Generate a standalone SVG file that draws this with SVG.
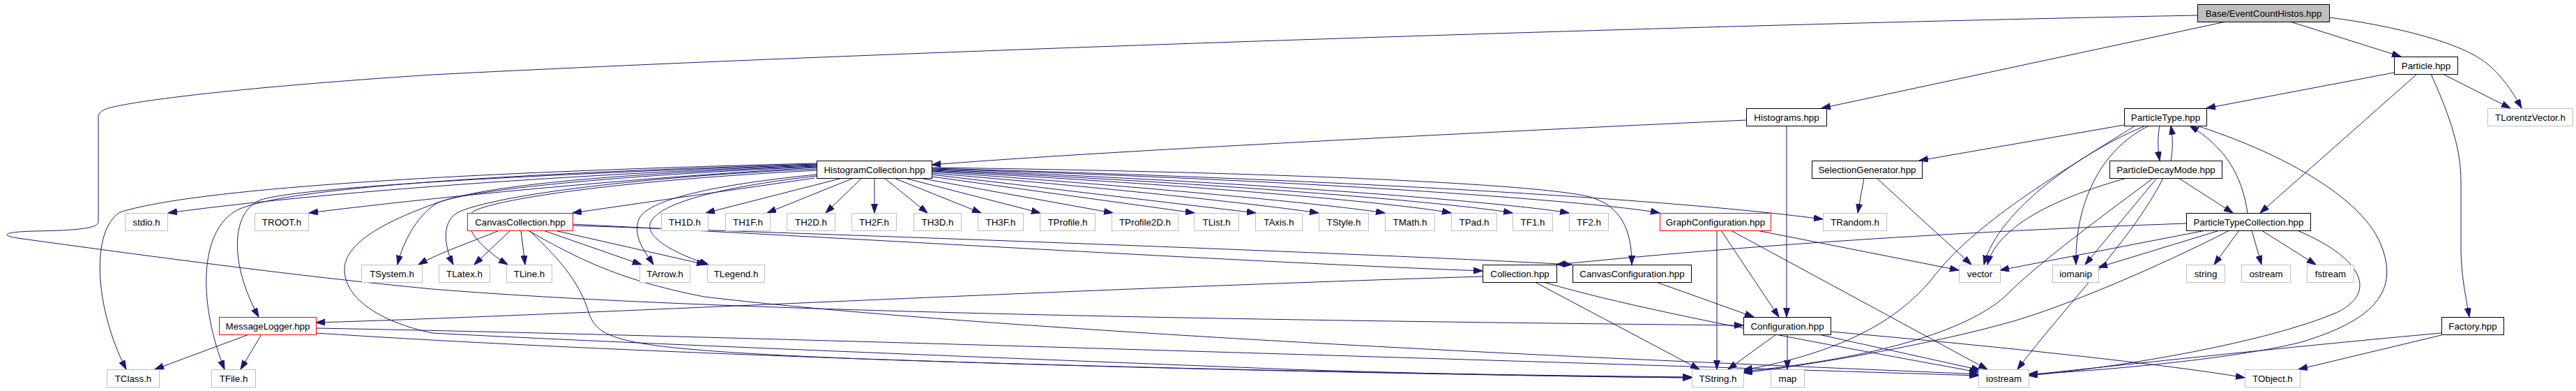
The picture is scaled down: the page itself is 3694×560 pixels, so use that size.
<svg xmlns="http://www.w3.org/2000/svg" width="3694" height="560" viewBox="0 0 3694 560">
<defs>
<marker id="a" markerUnits="userSpaceOnUse" markerWidth="14" markerHeight="10" refX="13" refY="4.5" orient="auto"><path d="M0,0 L13,4.5 L0,9 z" fill="#191970" stroke="#191970" stroke-width="1"/></marker>
</defs>
<style>
.n rect{fill:#fff;stroke:#000;stroke-width:1}
.s rect{stroke:#bfbfbf}
.r rect{stroke:#ff0000}
.root rect{fill:#bfbfbf}
text{font-family:"Liberation Sans",Arial,Helvetica,sans-serif;font-size:13.33px;text-anchor:middle;fill:#000}
#edges path{fill:none;stroke:#191970;stroke-width:1;marker-end:url(#a)}
</style>
<rect width="3694" height="560" fill="#fff"/>
<g id="edges">
<path d="M3192,31 L2612,155"/>
<path d="M3284,31 L3443,81"/>
<path d="M3340,25 C3440,38 3530,62 3565,90 C3590,110 3605,135 3616,155"/>
<path d="M3151,22 C2500,34 1300,72 620,107 C300,128 175,148 152,156 C143,160 141,163 141,168 L141,318 C141,327 110,330 50,331 C5,332 0,337 25,341 C200,365 420,395 620,414 C1000,445 1700,458 2500,466"/>
<path d="M3433,104 L3164,155"/>
<path d="M3466,106 L3241,305"/>
<path d="M3503,106 L3600,155"/>
<path d="M3486,106 C3515,170 3529,215 3529,260 L3529,360 C3530,400 3537,430 3541,454"/>
<path d="M3046,179 L2752,230"/>
<path d="M3097,180 C3094,195 3094,212 3097,230"/>
<path d="M3113,230 C3116,215 3116,198 3113,180"/>
<path d="M3077,180 C2990,215 2865,300 2845,379"/>
<path d="M3082,180 C3010,215 2975,295 2977,379"/>
<path d="M3062,180 C2950,250 2830,320 2770,400 C2720,460 2640,505 2500,530"/>
<path d="M3150,180 C3260,215 3390,280 3416,355 C3440,420 3400,460 3300,490 C3200,515 3000,532 2909,536"/>
<path d="M3050,255 C2960,280 2865,320 2850,379"/>
<path d="M3093,255 L2990,379"/>
<path d="M3102,255 C3060,340 2960,440 2893,529"/>
<path d="M3124,255 L3202,305"/>
<path d="M3088,255 C3000,320 2920,380 2880,420 C2830,470 2700,512 2500,532"/>
<path d="M3223,305 C3215,250 3190,210 3140,180"/>
<path d="M3135,320 C2800,332 2500,352 2232,379"/>
<path d="M3163,330 L2868,387"/>
<path d="M3183,330 L3009,383"/>
<path d="M3211,330 L3175,379"/>
<path d="M3229,330 L3243,379"/>
<path d="M3243,330 L3321,379"/>
<path d="M3294,330 C3390,370 3410,420 3350,448 C3250,490 3050,525 2909,538"/>
<path d="M3197,330 C3100,380 2960,440 2880,462 C2780,490 2620,520 2500,534"/>
<path d="M2504,172 C2200,186 1600,215 1336,236"/>
<path d="M2562,180 L2562,454"/>
<path d="M2673,255 L2664,305"/>
<path d="M2691,255 L2827,379"/>
<path d="M2462,330 L2462,529"/>
<path d="M2468,330 L2551,454"/>
<path d="M2482,330 L2850,529"/>
<path d="M2519,330 L2809,387"/>
<path d="M2547,479 L2478,529"/>
<path d="M2563,479 L2563,529"/>
<path d="M2608,479 L2840,530"/>
<path d="M2625,475 C2800,490 3100,520 3219,541"/>
<path d="M3501,477 C3300,495 3050,522 2909,537"/>
<path d="M3501,480 L3296,529"/>
<path d="M2126,396 C1500,415 800,452 453,462"/>
<path d="M2201,404 L2437,529"/>
<path d="M2213,404 C2330,438 2500,472 2837,533"/>
<path d="M2375,404 L2515,454"/>
<path d="M1168,255 L821,305"/>
<path d="M1208,255 L1012,305"/>
<path d="M1224,255 L1100,305"/>
<path d="M1236,255 L1184,305"/>
<path d="M1254,255 L1254,305"/>
<path d="M1268,255 L1330,305"/>
<path d="M1282,255 L1407,305"/>
<path d="M1297,255 L1492,305"/>
<path d="M1313,254 L1596,305"/>
<path d="M1329,252 L1713,305"/>
<path d="M1336,250 L1801,305"/>
<path d="M1336,248 C1600,270 1800,292 1891,305"/>
<path d="M1336,246 C1650,268 1900,292 1986,305"/>
<path d="M1336,245 C1700,264 2000,290 2081,305"/>
<path d="M1336,244 C1750,262 2080,290 2169,305"/>
<path d="M1336,243 C1800,260 2160,290 2250,305"/>
<path d="M1336,242 C1900,258 2300,290 2380,305"/>
<path d="M1336,241 C1900,256 2400,285 2614,314"/>
<path d="M1336,240 C1800,246 2200,262 2280,282 C2325,295 2340,330 2340,379"/>
<path d="M1171,237 C900,246 500,270 241,305"/>
<path d="M1171,240 C900,255 600,285 443,305"/>
<path d="M1171,234 C800,243 300,263 172,304 C130,330 135,440 181,529"/>
<path d="M1171,235 C800,246 420,265 342,300 C282,330 286,440 322,529"/>
<path d="M1171,236 C800,248 420,268 372,287 C330,306 330,380 371,454"/>
<path d="M1171,239 C900,250 660,272 625,292 C595,312 577,350 570,379"/>
<path d="M1171,242 C900,254 700,282 655,305 C632,320 638,355 650,379"/>
<path d="M1171,244 C900,258 720,283 680,302 C655,318 690,356 728,379"/>
<path d="M1171,250 C1050,262 930,282 916,314 C907,340 925,360 937,379"/>
<path d="M1171,252 C1050,266 942,288 932,321 C928,345 978,366 1016,379"/>
<path d="M1171,238 C850,250 680,268 620,293 C540,322 494,352 494,386 C494,425 540,460 620,477 C900,492 1500,515 1850,529 C2100,537 2300,540 2426,541"/>
<path d="M716,330 C680,345 630,362 600,379"/>
<path d="M732,330 L680,379"/>
<path d="M747,330 L753,379"/>
<path d="M779,330 L920,379"/>
<path d="M795,330 L1012,379"/>
<path d="M821,321 C1200,340 1800,376 2126,388"/>
<path d="M821,323 C1200,336 1900,360 2254,379"/>
<path d="M759,330 C800,370 830,400 845,450 C860,490 900,500 1235,514 C1700,530 2200,538 2426,540"/>
<path d="M757,330 C820,365 880,400 1010,425 C1300,460 1900,495 2400,517 C2600,526 2750,532 2837,536"/>
<path d="M357,479 L222,529"/>
<path d="M375,479 L345,529"/>
<path d="M453,470 C900,478 1800,505 2837,538"/>
<path d="M453,477 C800,500 1500,530 2426,541"/>
</g>
<g id="n_base" class="n root"><rect x="3151.5" y="6.5" width="189" height="25"/><text x="3246" y="23.5">Base/EventCountHistos.hpp</text></g>
<g id="n_particle" class="n"><rect x="3433.5" y="81.5" width="91" height="25"/><text x="3479" y="98.5">Particle.hpp</text></g>
<g id="n_histograms" class="n"><rect x="2504.5" y="155.5" width="115" height="25"/><text x="2562" y="172.5">Histograms.hpp</text></g>
<g id="n_particletype" class="n"><rect x="3046.5" y="155.5" width="118" height="25"/><text x="3105.5" y="172.5">ParticleType.hpp</text></g>
<g id="n_tlorentz" class="n s"><rect x="3567.5" y="155.5" width="122" height="25"/><text x="3628.5" y="172.5">TLorentzVector.h</text></g>
<g id="n_histcoll" class="n"><rect x="1171.5" y="230.5" width="165" height="25"/><text x="1254" y="247.5">HistogramCollection.hpp</text></g>
<g id="n_selgen" class="n"><rect x="2598.5" y="230.5" width="158" height="25"/><text x="2677.5" y="247.5">SelectionGenerator.hpp</text></g>
<g id="n_decay" class="n"><rect x="3025.5" y="230.5" width="161" height="25"/><text x="3106" y="247.5">ParticleDecayMode.hpp</text></g>
<g id="n_stdio" class="n s"><rect x="179.5" y="305.5" width="61" height="25"/><text x="210" y="322.5">stdio.h</text></g>
<g id="n_troot" class="n s"><rect x="365.5" y="305.5" width="77" height="25"/><text x="404" y="322.5">TROOT.h</text></g>
<g id="n_canvcoll" class="n r"><rect x="670.5" y="305.5" width="151" height="25"/><text x="746" y="322.5">CanvasCollection.hpp</text></g>
<g id="n_th1d" class="n s"><rect x="948.5" y="305.5" width="67" height="25"/><text x="982" y="322.5">TH1D.h</text></g>
<g id="n_th1f" class="n s"><rect x="1040.5" y="305.5" width="64" height="25"/><text x="1072.5" y="322.5">TH1F.h</text></g>
<g id="n_th2d" class="n s"><rect x="1128.5" y="305.5" width="69" height="25"/><text x="1163" y="322.5">TH2D.h</text></g>
<g id="n_th2f" class="n s"><rect x="1221.5" y="305.5" width="64" height="25"/><text x="1253.5" y="322.5">TH2F.h</text></g>
<g id="n_th3d" class="n s"><rect x="1310.5" y="305.5" width="68" height="25"/><text x="1344.5" y="322.5">TH3D.h</text></g>
<g id="n_th3f" class="n s"><rect x="1402.5" y="305.5" width="65" height="25"/><text x="1435" y="322.5">TH3F.h</text></g>
<g id="n_tprofile" class="n s"><rect x="1491.5" y="305.5" width="79" height="25"/><text x="1531" y="322.5">TProfile.h</text></g>
<g id="n_tprofile2d" class="n s"><rect x="1594.5" y="305.5" width="95" height="25"/><text x="1642" y="322.5">TProfile2D.h</text></g>
<g id="n_tlist" class="n s"><rect x="1712.5" y="305.5" width="64" height="25"/><text x="1744.5" y="322.5">TList.h</text></g>
<g id="n_taxis" class="n s"><rect x="1800.5" y="305.5" width="67" height="25"/><text x="1834" y="322.5">TAxis.h</text></g>
<g id="n_tstyle" class="n s"><rect x="1891.5" y="305.5" width="71" height="25"/><text x="1927" y="322.5">TStyle.h</text></g>
<g id="n_tmath" class="n s"><rect x="1986.5" y="305.5" width="71" height="25"/><text x="2022" y="322.5">TMath.h</text></g>
<g id="n_tpad" class="n s"><rect x="2081.5" y="305.5" width="65" height="25"/><text x="2114" y="322.5">TPad.h</text></g>
<g id="n_tf1" class="n s"><rect x="2169.5" y="305.5" width="57" height="25"/><text x="2198" y="322.5">TF1.h</text></g>
<g id="n_tf2" class="n s"><rect x="2250.5" y="305.5" width="56" height="25"/><text x="2278.5" y="322.5">TF2.h</text></g>
<g id="n_graphconf" class="n r"><rect x="2380.5" y="305.5" width="159" height="25"/><text x="2460" y="322.5">GraphConfiguration.hpp</text></g>
<g id="n_trandom" class="n s"><rect x="2614.5" y="305.5" width="91" height="25"/><text x="2660" y="322.5">TRandom.h</text></g>
<g id="n_ptcoll" class="n"><rect x="3135.5" y="305.5" width="178" height="25"/><text x="3224.5" y="322.5">ParticleTypeCollection.hpp</text></g>
<g id="n_tsystem" class="n s"><rect x="518.5" y="379.5" width="87" height="25"/><text x="562" y="396.5">TSystem.h</text></g>
<g id="n_tlatex" class="n s"><rect x="629.5" y="379.5" width="73" height="25"/><text x="666" y="396.5">TLatex.h</text></g>
<g id="n_tline" class="n s"><rect x="726.5" y="379.5" width="65" height="25"/><text x="759" y="396.5">TLine.h</text></g>
<g id="n_tarrow" class="n s"><rect x="917.5" y="379.5" width="72" height="25"/><text x="953.5" y="396.5">TArrow.h</text></g>
<g id="n_tlegend" class="n s"><rect x="1014.5" y="379.5" width="82" height="25"/><text x="1055.5" y="396.5">TLegend.h</text></g>
<g id="n_collection" class="n"><rect x="2126.5" y="379.5" width="106" height="25"/><text x="2179.5" y="396.5">Collection.hpp</text></g>
<g id="n_canvconf" class="n"><rect x="2255.5" y="379.5" width="170" height="25"/><text x="2340.5" y="396.5">CanvasConfiguration.hpp</text></g>
<g id="n_vector" class="n s"><rect x="2809.5" y="379.5" width="59" height="25"/><text x="2839" y="396.5">vector</text></g>
<g id="n_iomanip" class="n s"><rect x="2943.5" y="379.5" width="66" height="25"/><text x="2976.5" y="396.5">iomanip</text></g>
<g id="n_string" class="n s"><rect x="3135.5" y="379.5" width="55" height="25"/><text x="3163" y="396.5">string</text></g>
<g id="n_ostream" class="n s"><rect x="3214.5" y="379.5" width="70" height="25"/><text x="3249.5" y="396.5">ostream</text></g>
<g id="n_fstream" class="n s"><rect x="3308.5" y="379.5" width="67" height="25"/><text x="3342" y="396.5">fstream</text></g>
<g id="n_msglog" class="n r"><rect x="314.5" y="454.5" width="139" height="25"/><text x="384" y="471.5">MessageLogger.hpp</text></g>
<g id="n_config" class="n"><rect x="2500.5" y="454.5" width="125" height="25"/><text x="2563" y="471.5">Configuration.hpp</text></g>
<g id="n_factory" class="n"><rect x="3501.5" y="454.5" width="89" height="25"/><text x="3546" y="471.5">Factory.hpp</text></g>
<g id="n_tclass" class="n s"><rect x="153.5" y="529.5" width="75" height="25"/><text x="191" y="546.5">TClass.h</text></g>
<g id="n_tfile" class="n s"><rect x="303.5" y="529.5" width="63" height="25"/><text x="335" y="546.5">TFile.h</text></g>
<g id="n_tstring" class="n s"><rect x="2426.5" y="529.5" width="74" height="25"/><text x="2463.5" y="546.5">TString.h</text></g>
<g id="n_map" class="n s"><rect x="2539.5" y="529.5" width="48" height="25"/><text x="2563.5" y="546.5">map</text></g>
<g id="n_iostream" class="n s"><rect x="2837.5" y="529.5" width="72" height="25"/><text x="2873.5" y="546.5">iostream</text></g>
<g id="n_tobject" class="n s"><rect x="3219.5" y="529.5" width="79" height="25"/><text x="3259" y="546.5">TObject.h</text></g>
</svg>
